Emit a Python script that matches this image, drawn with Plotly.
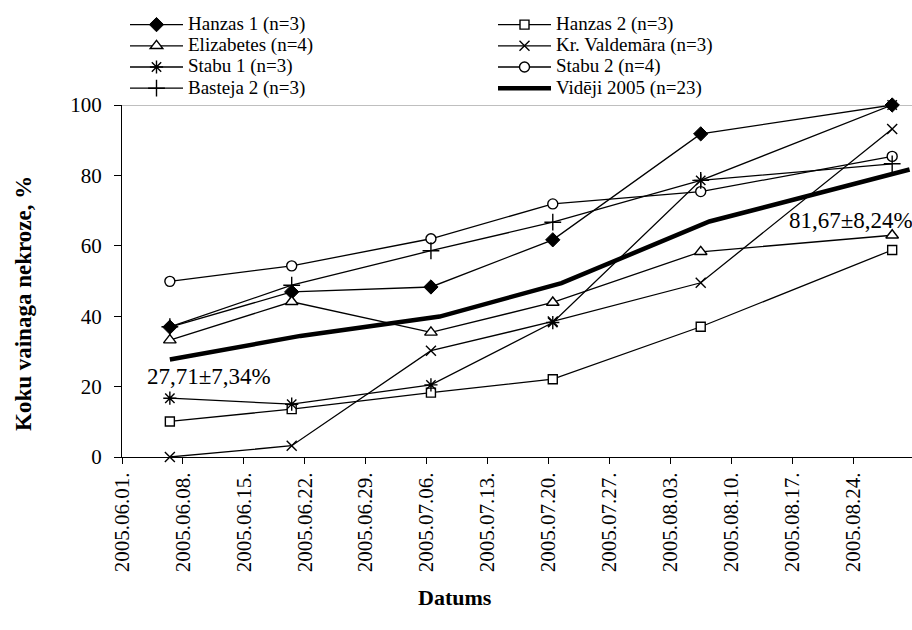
import pandas as pd
import plotly.graph_objects as go

# ---- data ----
dates = ["2005-06-06", "2005-06-20", "2005-07-06", "2005-07-20", "2005-08-06", "2005-08-28"]
mean_dates = ["2005-06-06", "2005-06-21", "2005-07-07", "2005-07-21", "2005-08-07", "2005-08-30"]

hanzas1 = [36.9, 46.9, 48.3, 61.7, 91.8, 100]
hanzas2 = [10.1, 13.6, 18.3, 22.1, 37.0, 58.8]
elizabetes = [33.2, 44.1, 35.4, 43.9, 58.3, 63.0]
valdemara = [0, 3.2, 30.2, 38.5, 49.5, 93.2]
stabu1 = [16.7, 15.0, 20.5, 38.2, 78.6, 100]
stabu2 = [49.9, 54.3, 62.0, 71.9, 75.4, 85.4]
basteja2 = [37.0, 48.8, 58.6, 66.7, 78.6, 83.3]
mean2005 = [27.71, 34.4, 39.9, 49.4, 66.9, 81.67]

names = ["Hanzas 1 (n=3)", "Hanzas 2 (n=3)", "Elizabetes (n=4)", "Kr. Valdemāra (n=3)",
         "Stabu 1 (n=3)", "Stabu 2 (n=4)", "Basteja 2 (n=3)", "Vidēji 2005 (n=23)"]
mean_label_start = "27,71±7,34%"
mean_label_end = "81,67±8,24%"

tick_dates = pd.date_range("2005-06-01", "2005-08-24", freq="7D")
tick_text = [d.strftime("%Y.%m.%d.") for d in tick_dates]

# Excel date axis (between tick marks): each point sits in the middle of its day
half_day = pd.Timedelta(hours=12)
x = pd.to_datetime(dates) + half_day
xm = pd.to_datetime(mean_dates) + half_day

FONT = "Times New Roman, Liberation Serif, serif"
LEG = '<span style="font-size:19px">%s</span>'

styles = [
    dict(symbol="diamond", size=11, color="black", line=dict(color="black", width=1)),
    dict(symbol="square", size=9, color="white", line=dict(color="black", width=1.4)),
    dict(symbol="triangle-up", size=11, color="white", line=dict(color="black", width=1.4)),
    dict(symbol="x-thin", size=10, color="black", line=dict(color="black", width=1.4)),
    dict(symbol="asterisk", size=11, color="black", line=dict(color="black", width=1.4)),
    dict(symbol="circle", size=10, color="white", line=dict(color="black", width=1.4)),
    dict(symbol="cross-thin", size=12, color="black", line=dict(color="black", width=1.4)),
]
series = [hanzas1, hanzas2, elizabetes, valdemara, stabu1, stabu2, basteja2]

fig = go.Figure()
for vals, name, mk in zip(series, names[:7], styles):
    fig.add_trace(go.Scatter(
        x=x, y=vals, name=LEG % name, mode="lines+markers",
        line=dict(color="black", width=1.3), marker=mk, cliponaxis=False))

fig.add_trace(go.Scatter(
    x=xm, y=mean2005, name=LEG % names[7], mode="lines",
    line=dict(color="black", width=4.5), cliponaxis=False))

fig.add_shape(type="line", xref="paper", x0=0, x1=1, yref="y", y0=100, y1=100,
              line=dict(color="#808080", width=1), layer="below")

fig.add_annotation(x=xm[0], y=mean2005[0], text=mean_label_start, showarrow=False,
                   xanchor="left", yanchor="middle", xshift=-25, yshift=-17,
                   font=dict(family=FONT, size=23, color="black"))
fig.add_annotation(x=xm[-1], y=mean2005[-1], text=mean_label_end, showarrow=False,
                   xanchor="right", yanchor="middle", xshift=5, yshift=-51,
                   font=dict(family=FONT, size=23, color="black"))

# plot area: x 122..912 px, y 105..457 px
fig.add_annotation(xref="paper", yref="paper", x=(23 - 122) / 790, y=(457 - 304) / 352,
                   text="<b>Koku vainaga nekroze, %</b>", textangle=-90, showarrow=False,
                   xanchor="center", yanchor="middle",
                   font=dict(family=FONT, size=23, color="black"))
fig.add_annotation(xref="paper", yref="paper", x=(455 - 122) / 790, y=(457 - 597) / 352,
                   text="<b>Datums</b>", showarrow=False,
                   xanchor="center", yanchor="middle",
                   font=dict(family=FONT, size=22, color="black"))

fig.update_layout(
    width=912, height=630,
    margin=dict(l=122, r=0, t=105, b=173, pad=0, autoexpand=False),
    paper_bgcolor="white", plot_bgcolor="white",
    font=dict(family=FONT, size=21, color="black"),
    showlegend=True,
    legend=dict(orientation="h", xref="container", yref="container",
                x=125 / 912, y=1 - 9 / 630, xanchor="left", yanchor="top",
                font=dict(family=FONT, size=14, color="black"),
                itemwidth=53, entrywidth=300, entrywidthmode="pixels",
                bgcolor="rgba(0,0,0,0)", borderwidth=0, traceorder="normal"),
    xaxis=dict(type="date", range=["2005-06-01", "2005-08-30 18:40"],
               tickmode="array", tickvals=tick_dates, ticktext=tick_text,
               tickangle=-90, ticks="outside", ticklen=6, tickcolor="black",
               showline=True, linecolor="black", linewidth=1,
               showgrid=False, zeroline=False,
               tickfont=dict(family=FONT, size=21, color="black")),
    yaxis=dict(range=[0, 100], tickmode="linear", tick0=0, dtick=20,
               ticks="outside", ticklen=7, tickcolor="black",
               showline=True, linecolor="black", linewidth=1,
               showgrid=False, zeroline=False, ticklabelstandoff=8,
               tickfont=dict(family=FONT, size=21, color="black")),
)

fig.write_html("out.html")
